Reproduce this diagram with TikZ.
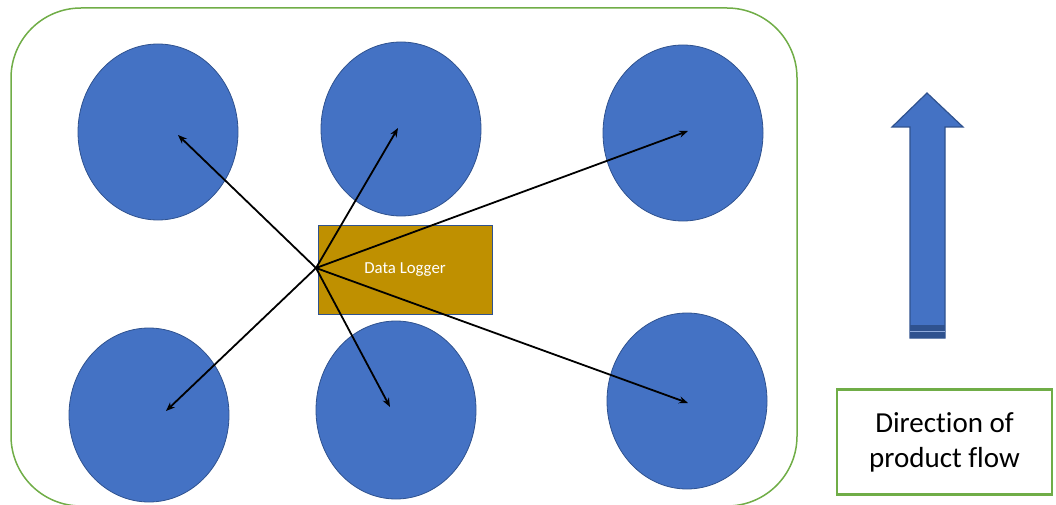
\documentclass[tikz,border=0pt]{standalone}
\usepackage{fontspec}
\setmainfont{Carlito}[RawFeature={-liga;-dlig}]
\usetikzlibrary{shapes.geometric,arrows.meta}
\definecolor{eblue}{HTML}{4472C4}
\definecolor{edge}{HTML}{2F528F}
\definecolor{gold}{HTML}{BF9000}
\definecolor{lgreen}{HTML}{70AD47}
\tikzset{
  pod/.style={ellipse, fill=eblue, draw=edge, line width=0.8pt, minimum width=160pt, minimum height=176pt, inner sep=0pt},
  link/.style={-{Stealth[length=9pt,width=7pt]}, line width=1.8pt, black},
  logger/.style={rectangle, fill=gold, draw=edge, line width=1pt, minimum width=174pt, minimum height=89pt, text=white, font=\fontsize{16.8}{20}\selectfont, inner sep=0pt},
  legend/.style={rectangle, draw=lgreen, line width=2.5pt, minimum width=215pt, minimum height=105pt, align=center, font=\fontsize{29}{35}\selectfont, inner sep=0pt}
}
\begin{document}
\begin{tikzpicture}[x=1pt,y=-1pt]
\useasboundingbox (0,0) rectangle (1056,505);
\begin{scope}
\clip (0,0) rectangle (1056,505);
\draw[lgreen, line width=1.5pt, rounded corners=70pt] (11,8) rectangle (797,506);
\end{scope}
\node[pod] (e1) at (158,132) {};
\node[pod, minimum height=174pt] (e2) at (401,129) {};
\node[pod] (e3) at (683,133) {};
\node[pod, minimum height=174pt] (e4) at (149,415) {};
\node[pod, minimum height=178pt] (e5) at (396,410) {};
\node[pod] (e6) at (687,401) {};
\node[logger] (dl) at (405,269.5) {Data Logger};
\coordinate (hub) at (316,268);
\coordinate (t1) at (178,135);
\coordinate (t2) at (398,128);
\coordinate (t3) at (688,131);
\coordinate (t4) at (166,411);
\coordinate (t5) at (390,407);
\coordinate (t6) at (688,403);
\foreach \t in {t1,t2,t3,t4,t5,t6} \draw[link] (hub) -- (\t);
% flow arrow
\draw[fill=eblue, draw=edge, line width=1.2pt] (927,93) -- (963,127) -- (945,127) -- (945,338) -- (910,338) -- (910,127) -- (892,127) -- cycle;
\fill[edge] (910,325) rectangle (945,338);
\draw[eblue!60!white, line width=0.8pt] (910,331) -- (945,331);
\node[legend] (lg) at (944.5,442) {Direction of\\product flow};
\end{tikzpicture}
\end{document}
